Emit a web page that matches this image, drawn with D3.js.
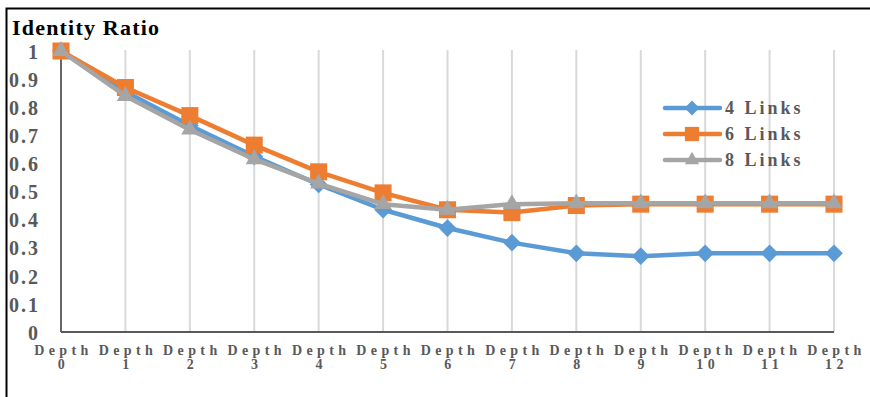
<!DOCTYPE html>
<html>
<head>
<meta charset="utf-8">
<script src="https://cdn.jsdelivr.net/npm/d3@7"></script>
<style>
  html, body { margin: 0; padding: 0; background: #fff; }
  svg { display: block; }
</style>
</head>
<body>
<svg id="chart" width="870" height="397"></svg>
<script>
// Identity ratio by search depth for three link counts
const depths = [0, 1, 2, 3, 4, 5, 6, 7, 8, 9, 10, 11, 12];
const links4 = [1, 0.855, 0.735, 0.625, 0.525, 0.435, 0.37, 0.318, 0.28, 0.27, 0.28, 0.28, 0.28];
const links6 = [1, 0.87, 0.77, 0.665, 0.57, 0.495, 0.435, 0.425, 0.45, 0.455, 0.455, 0.455, 0.455];
const links8 = [1, 0.84, 0.72, 0.615, 0.528, 0.455, 0.435, 0.455, 0.458, 0.458, 0.458, 0.458, 0.458];
const seriesNames = ["4 Links", "6 Links", "8 Links"];
const yTicks = [0, 0.1, 0.2, 0.3, 0.4, 0.5, 0.6, 0.7, 0.8, 0.9, 1];
const title = "Identity Ratio";

const FONT = "'Liberation Serif', 'DejaVu Serif', 'Times New Roman', serif";

const series = [
  { name: seriesNames[0], values: links4, color: "#5B9BD5", symbol: d3.symbolDiamond2, size: 200 },
  { name: seriesNames[1], values: links6, color: "#ED7D31", symbol: d3.symbolSquare2, size: 370 },
  { name: seriesNames[2], values: links8, color: "#A5A5A5", symbol: d3.symbolTriangle2, size: 210 }
];

const svg = d3.select("#chart");
const textGray = "#595959";

// outer frame
svg.append("rect")
  .attr("x", 6.5).attr("y", 8.5)
  .attr("width", 880).attr("height", 400)
  .attr("fill", "none").attr("stroke", "#000").attr("stroke-width", 2);

const x = d3.scaleLinear().domain([0, 12]).range([61, 834]);
const y = d3.scaleLinear().domain([0, 1]).range([332, 51]);

// vertical gridlines
svg.append("g").selectAll("line")
  .data(depths.slice(1))
  .join("line")
  .attr("x1", d => x(d)).attr("x2", d => x(d))
  .attr("y1", y(1) - 1).attr("y2", y(0))
  .attr("stroke", "#D9D9D9").attr("stroke-width", 2);

// y axis labels
const yAxis = d3.axisLeft(y).tickValues(yTicks).tickSize(0).tickPadding(0)
  .tickFormat(d => d === 0 || d === 1 ? String(d) : d3.format(".1f")(d));
const gy = svg.append("g").attr("transform", "translate(40,0)").call(yAxis);
gy.select(".domain").remove();
gy.attr("font-family", null).attr("font-size", null);
gy.selectAll("text")
  .attr("fill", textGray)
  .style("font-family", FONT)
  .style("font-weight", "bold")
  .style("font-size", "20px")
  .style("letter-spacing", "2px")
  .attr("dy", "0.36em");

// y axis line
svg.append("line")
  .attr("x1", x(0)).attr("x2", x(0))
  .attr("y1", y(1) - 1).attr("y2", y(0))
  .attr("stroke", "#000").attr("stroke-width", 1.2);

// x axis labels (two lines)
const xAxis = d3.axisBottom(x).tickValues(depths).tickSize(0).tickFormat("");
const gx = svg.append("g").attr("transform", `translate(0,${y(0)})`).call(xAxis);
gx.select(".domain").remove();
gx.attr("font-family", null).attr("font-size", null);
gx.selectAll(".tick").each(function(d) {
  const t = d3.select(this).append("text")
    .attr("fill", textGray)
    .attr("text-anchor", "middle")
    .style("font-family", FONT)
    .style("font-weight", "bold")
    .style("font-size", "14px")
    .style("letter-spacing", "4.4px");
  t.append("tspan").attr("x", 2).attr("y", 23).text("Depth");
  t.append("tspan").attr("x", 2).attr("y", 37).text(String(d));
});

// x axis line
svg.append("line")
  .attr("x1", x(0)).attr("x2", x(12))
  .attr("y1", y(0)).attr("y2", y(0))
  .attr("stroke", textGray).attr("stroke-width", 2);

// series lines and markers
const line = d3.line().x((d, i) => x(depths[i])).y(d => y(d));
series.forEach(s => {
  svg.append("path")
    .datum(s.values)
    .attr("d", line)
    .attr("fill", "none")
    .attr("stroke", s.color)
    .attr("stroke-width", 4.5)
    .attr("stroke-linejoin", "round");
  svg.append("g").selectAll("path")
    .data(s.values)
    .join("path")
    .attr("transform", (d, i) => `translate(${x(depths[i])},${y(d)})`)
    .attr("d", d3.symbol(s.symbol, s.size))
    .attr("fill", s.color);
});

// title
svg.append("text")
  .attr("x", 12).attr("y", 35)
  .attr("fill", "#000")
  .style("font-family", FONT)
  .style("font-weight", "bold")
  .style("font-size", "22px")
  .style("letter-spacing", "1.2px")
  .text(title);

// legend
const legend = svg.append("g");
series.forEach((s, i) => {
  const cy = 108 + i * 26;
  legend.append("line")
    .attr("x1", 665).attr("x2", 720)
    .attr("y1", cy).attr("y2", cy)
    .attr("stroke", s.color).attr("stroke-width", 4.5)
    .attr("stroke-linecap", "round");
  legend.append("path")
    .attr("transform", `translate(692,${cy})`)
    .attr("d", d3.symbol(s.symbol, s.size * 0.7))
    .attr("fill", s.color);
  legend.append("text")
    .attr("x", 725).attr("y", cy + 6)
    .attr("fill", textGray)
    .style("font-family", FONT)
    .style("font-weight", "bold")
    .style("font-size", "18px")
    .style("letter-spacing", "3px")
    .text(s.name);
});
</script>
</body>
</html>
